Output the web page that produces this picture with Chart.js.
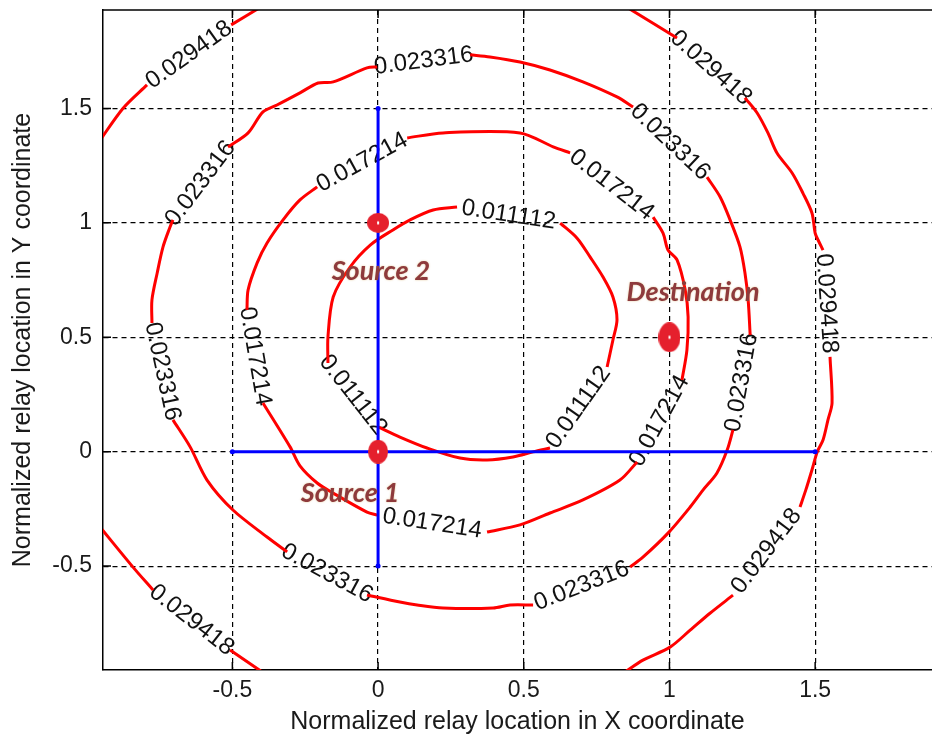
<!DOCTYPE html>
<html>
<head>
<meta charset="utf-8">
<script src="https://cdn.jsdelivr.net/npm/chart.js@4"></script>
<style>
  html, body { margin: 0; padding: 0; background: #fff; overflow: hidden; }
  canvas { display: block; }
</style>
</head>
<body>
<canvas id="relay-chart" width="932" height="740"></canvas>
<script>
const levels = [0.011112, 0.017214, 0.023316, 0.029418];

// contour points, null = gap where the level label sits
const c1x = [0.625, 0.683, 0.728, 0.772, 0.806, 0.820, 0.806, 0.786, null, 0.590, 0.532, 0.463, 0.374, 0.281, 0.168, 0.075, 0.000, null, -0.172, -0.172, -0.154, -0.096, -0.027, 0.051, 0.110, 0.189, 0.271, null, 0.625];
const c1y = [0.999, 0.933, 0.850, 0.763, 0.676, 0.576, 0.488, 0.370, null, 0.016, -0.001, -0.023, -0.036, -0.028, 0.016, 0.064, 0.108, null, 0.388, 0.501, 0.676, 0.807, 0.903, 0.969, 1.013, 1.056, 1.069, null, 0.999];

const c2x = [0.100, 0.223, 0.487, 0.601, 0.659, null, 0.944, 0.978, 0.995, 1.026, 1.054, 1.064, 1.060, 1.043, null, 0.889, 0.830, 0.703, 0.590, 0.487, 0.374, null, -0.003, -0.038, -0.154, -0.209, -0.268, -0.302, -0.395, null, -0.450, -0.446, -0.415, -0.381, -0.326, -0.268, -0.209, null, 0.100];
const c2y = [1.371, 1.393, 1.393, 1.332, 1.306, null, 1.025, 0.955, 0.881, 0.838, 0.707, 0.589, 0.445, 0.313, null, -0.045, -0.124, -0.211, -0.268, -0.320, -0.351, null, -0.277, -0.264, -0.181, -0.137, -0.062, 0.021, 0.213, null, 0.620, 0.707, 0.825, 0.912, 1.013, 1.100, 1.157, null, 1.371];

const c3x = [-0.515, -0.446, -0.395, -0.347, -0.268, -0.206, -0.154, -0.038, -0.003, null, 0.316, 0.384, 0.487, 0.590, 0.703, 0.820, 0.875, null, 1.129, 1.174, 1.208, 1.242, 1.259, 1.270, 1.277, null, 1.218, 1.198, 1.163, 1.115, 1.071, 0.995, 0.909, 0.865, null, 0.532, 0.453, 0.395, 0.223, 0.134, 0.075, -0.038, null, -0.312, -0.381, -0.498, -0.587, -0.645, -0.704, null, -0.776, -0.776, -0.758, -0.738, -0.714, -0.704, null, -0.515];
const c3y = [1.331, 1.393, 1.485, 1.515, 1.568, 1.611, 1.616, 1.677, 1.681, null, 1.734, 1.725, 1.703, 1.668, 1.616, 1.550, 1.506, null, 1.200, 1.113, 1.013, 0.895, 0.782, 0.663, 0.510, null, 0.095, 0.007, -0.093, -0.168, -0.242, -0.356, -0.461, -0.504, null, -0.670, -0.670, -0.683, -0.683, -0.670, -0.657, -0.626, null, -0.438, -0.373, -0.255, -0.124, 0.021, 0.139, null, 0.562, 0.663, 0.781, 0.895, 0.982, 1.013, null, 1.331];

// outer level leaves the axes, so three separate pieces
const c4ax = [-0.960, -0.875, -0.793, null, -0.504, -0.400];
const c4ay = [1.350, 1.501, 1.603, null, 1.865, 1.945];
const c4bx = [0.850, 1.026, null, 1.259, 1.301, 1.338, 1.369, 1.421, 1.458, 1.489, 1.500, 1.510, 1.527, null, 1.551, 1.558, 1.544, 1.527, 1.507, 1.489, 1.468, 1.448, null, 1.218, 1.139, 1.071, 1.002, 0.909, 0.845];
const c4by = [1.945, 1.808, null, 1.546, 1.480, 1.393, 1.305, 1.218, 1.130, 1.043, 0.955, 0.925, 0.881, null, 0.414, 0.213, 0.139, 0.051, -0.001, -0.080, -0.167, -0.242, null, -0.627, -0.706, -0.780, -0.854, -0.911, -0.965];
const c4cx = [-0.960, -0.844, -0.772, null, -0.508, -0.395];
const c4cy = [-0.320, -0.500, -0.605, null, -0.867, -0.965];

const xTicks = [-0.5, 0, 0.5, 1, 1.5];
const xTickLabels = ['-0.5', '0', '0.5', '1', '1.5'];
const yTicks = [-0.5, 0, 0.5, 1, 1.5];
const yTickLabels = ['-0.5', '0', '0.5', '1', '1.5'];

// blue reference lines through source 1
const hLineX = [-0.5, 1.5];
const hLineY = [0, 0];
const vLineX = [0, 0];
const vLineY = [-0.5, 1.5];

const nodeNames = ['Source 2', 'Source 1', 'Destination'];
const nodeX = [0, 0, 1];
const nodeY = [1, 0, 0.5];
const noteX = [0.010, -0.096, 1.081];
const noteY = [0.790, -0.181, 0.698];

const contours = [
  { level: levels[0], xs: c1x, ys: c1y },
  { level: levels[1], xs: c2x, ys: c2y },
  { level: levels[2], xs: c3x, ys: c3y },
  { level: levels[3], xs: c4ax, ys: c4ay },
  { level: levels[3], xs: c4bx, ys: c4by },
  { level: levels[3], xs: c4cx, ys: c4cy },
];

const FONT = '"Liberation Sans", Arial, sans-serif';

function segments(xs, ys) {
  const out = [];
  let cur = [];
  xs.forEach((v, i) => {
    if (v === null) {
      if (cur.length) out.push(cur);
      cur = [];
    } else {
      cur.push({ x: v, y: ys[i] });
    }
  });
  if (cur.length) out.push(cur);
  return out;
}

function ellipseImg(w, h) {
  const c = document.createElement('canvas');
  c.width = w;
  c.height = h;
  const g = c.getContext('2d');
  g.fillStyle = '#e5202d';
  g.beginPath();
  g.ellipse(w / 2, h / 2, w / 2, h / 2, 0, 0, 2 * Math.PI);
  g.fill();
  g.fillStyle = '#fff';
  g.fillRect(w / 2 - 1, h / 2 - 1.5, 2, 3);
  return c;
}

const markerImgs = [ellipseImg(22, 20), ellipseImg(20, 24), ellipseImg(22, 30)];

const datasets = [];

datasets.push({
  data: nodeX.map((v, i) => ({ x: v, y: nodeY[i] })),
  showLine: false,
  pointStyle: markerImgs,
  pointRadius: 10,
  order: 1,
});

datasets.push({
  data: hLineX.map((v, i) => ({ x: v, y: hLineY[i] })),
  showLine: true,
  borderColor: '#0000ff',
  borderWidth: 3,
  pointRadius: 2.5,
  pointBackgroundColor: '#0000ff',
  pointBorderWidth: 0,
  order: 2,
});
datasets.push({
  data: vLineX.map((v, i) => ({ x: v, y: vLineY[i] })),
  showLine: true,
  borderColor: '#0000ff',
  borderWidth: 3,
  pointRadius: 2.5,
  pointBackgroundColor: '#0000ff',
  pointBorderWidth: 0,
  order: 2,
});

contours.forEach(c => {
  segments(c.xs, c.ys).forEach(seg => {
    datasets.push({
      data: seg,
      showLine: true,
      borderColor: '#ff0000',
      borderWidth: 3,
      pointRadius: 0,
      tension: 0.3,
      clip: 0,
      order: 3,
    });
  });
});

// level labels sit in the gaps of each contour, turned along the line
const contourLabels = {
  id: 'contourLabels',
  beforeDatasetsDraw(chart) {
    const { ctx, chartArea: a, scales: { x, y } } = chart;
    ctx.save();
    ctx.beginPath();
    ctx.rect(a.left, a.top, a.right - a.left, a.bottom - a.top);
    ctx.clip();
    ctx.font = '24px ' + FONT;
    ctx.fillStyle = '#111';
    ctx.textAlign = 'center';
    ctx.textBaseline = 'middle';
    contours.forEach(c => {
      for (let i = 1; i < c.xs.length - 1; i++) {
        if (c.xs[i] !== null) continue;
        const x1 = x.getPixelForValue(c.xs[i - 1]);
        const y1 = y.getPixelForValue(c.ys[i - 1]);
        const x2 = x.getPixelForValue(c.xs[i + 1]);
        const y2 = y.getPixelForValue(c.ys[i + 1]);
        let ang = Math.atan2(y2 - y1, x2 - x1);
        if (ang > Math.PI / 2) ang -= Math.PI;
        else if (ang <= -Math.PI / 2) ang += Math.PI;
        ctx.save();
        ctx.translate((x1 + x2) / 2, (y1 + y2) / 2);
        ctx.rotate(ang);
        ctx.fillText(String(c.level), 0, 0);
        ctx.restore();
      }
    });
    ctx.restore();
  }
};

const nodeNotes = {
  id: 'nodeNotes',
  afterDatasetsDraw(chart) {
    const { ctx, scales: { x, y } } = chart;
    ctx.save();
    ctx.font = 'italic bold 27px Lato, "DejaVu Sans", sans-serif';
    ctx.fillStyle = '#8e3a3c';
    ctx.shadowColor = 'rgba(200,150,60,0.55)';
    ctx.shadowBlur = 2;
    ctx.textAlign = 'center';
    ctx.textBaseline = 'middle';
    nodeNames.forEach((name, i) => {
      ctx.fillText(name, x.getPixelForValue(noteX[i]), y.getPixelForValue(noteY[i]));
    });
    ctx.restore();
  }
};

// top edge of the box and the small inward tick marks
const frame = {
  id: 'frame',
  afterDraw(chart) {
    const { ctx, chartArea: a, scales: { x, y } } = chart;
    ctx.save();
    ctx.strokeStyle = '#000';
    ctx.lineWidth = 1.5;
    ctx.beginPath();
    ctx.moveTo(a.left, a.top);
    ctx.lineTo(a.right, a.top);
    xTicks.forEach(v => {
      const px = x.getPixelForValue(v);
      ctx.moveTo(px, a.bottom);
      ctx.lineTo(px, a.bottom - 8);
      ctx.moveTo(px, a.top);
      ctx.lineTo(px, a.top + 8);
    });
    yTicks.forEach(v => {
      const py = y.getPixelForValue(v);
      ctx.moveTo(a.left, py);
      ctx.lineTo(a.left + 8, py);
    });
    ctx.stroke();
    ctx.restore();
  }
};

const ctx = document.getElementById('relay-chart').getContext('2d');

new Chart(ctx, {
  type: 'scatter',
  data: { datasets },
  plugins: [contourLabels, nodeNotes, frame],
  options: {
    responsive: false,
    animation: false,
    events: [],
    layout: { autoPadding: false, padding: { top: 10, right: 0, bottom: 0, left: 0 } },
    plugins: {
      legend: { display: false },
      tooltip: { enabled: false },
    },
    scales: {
      x: {
        type: 'linear',
        min: -0.944,
        max: 1.901,
        afterBuildTicks: axis => { axis.ticks = xTicks.map(v => ({ value: v })); },
        afterFit: axis => {
          axis.height = 70;
          axis.paddingLeft = 0;
          axis.paddingRight = 0;
        },
        ticks: {
          callback: v => xTickLabels[xTicks.indexOf(v)],
          font: { family: FONT, size: 23 },
          color: '#1a1a1a',
          padding: 7,
          maxRotation: 0,
          autoSkip: false,
        },
        grid: { color: '#000', lineWidth: 1.2, drawTicks: false },
        border: { display: true, color: '#000', width: 1.5, dash: [5, 4] },
        title: {
          display: true,
          text: 'Normalized relay location in X coordinate',
          font: { family: FONT, size: 25 },
          color: '#1a1a1a',
          padding: { top: 0, bottom: 3 },
        },
      },
      y: {
        type: 'linear',
        min: -0.954,
        max: 1.930,
        afterBuildTicks: axis => { axis.ticks = yTicks.map(v => ({ value: v })); },
        afterFit: axis => {
          axis.width = 103;
          axis.paddingTop = 0;
          axis.paddingBottom = 0;
        },
        ticks: {
          callback: v => yTickLabels[yTicks.indexOf(v)],
          font: { family: FONT, size: 23 },
          color: '#1a1a1a',
          padding: 11,
          autoSkip: false,
        },
        grid: { color: '#000', lineWidth: 1.2, drawTicks: false },
        border: { display: true, color: '#000', width: 1.5, dash: [5, 4] },
        title: {
          display: true,
          text: 'Normalized relay location in Y coordinate',
          font: { family: FONT, size: 25 },
          color: '#1a1a1a',
          padding: { top: 8, bottom: 0 },
        },
      },
    },
  },
});
</script>
</body>
</html>
